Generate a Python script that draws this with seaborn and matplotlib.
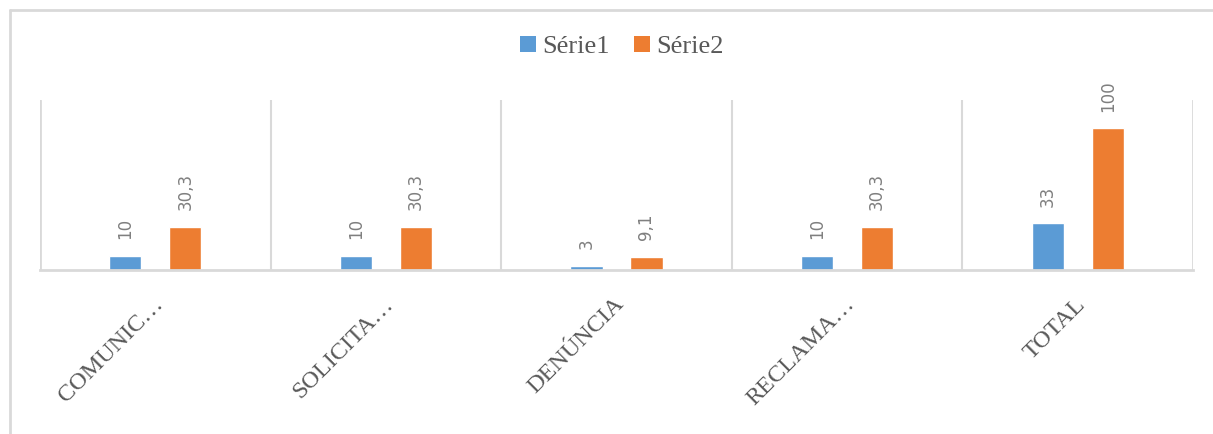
import matplotlib
matplotlib.use("Agg")
import matplotlib.pyplot as plt
import matplotlib.transforms as mtransforms
import seaborn as sns
import pandas as pd
from matplotlib.patches import Patch
from matplotlib.lines import Line2D

categories = ["COMUNIC…", "SOLICITA…", "DENÚNCIA", "RECLAMA…", "TOTAL"]
serie1 = [10, 10, 3, 10, 33]
serie2 = [30.3, 30.3, 9.1, 30.3, 100]
series_names = ["Série1", "Série2"]
colors = ["#5B9BD5", "#ED7D31"]

df = pd.DataFrame({
    "cat": categories * 2,
    "val": serie1 + serie2,
    "serie": [series_names[0]] * len(categories) + [series_names[1]] * len(categories),
})

sns.set_theme(style="white")
fig = plt.figure(figsize=(12.13, 4.34), dpi=100)
ax = fig.add_axes([40/1213, 1-270/434, (1193-40)/1213, 170/434])

sns.barplot(data=df, x="cat", y="val", hue="serie", palette=colors,
            width=0.52, gap=0.465, ax=ax, legend=False, saturation=1)

ax.set_ylim(0, 120)
ax.set_xlim(-0.5, len(categories) - 0.5)
ax.set_xlabel("")
ax.set_ylabel("")
ax.set_yticks([])

for s in ["top", "left", "right"]:
    ax.spines[s].set_visible(False)
ax.spines["bottom"].set_color("#D9D9D9")
ax.spines["bottom"].set_linewidth(2)

for i in range(len(categories) + 1):
    ax.axvline(i - 0.5, color="#D9D9D9", lw=1.5 if 0 < i < len(categories) else 2, zorder=0)

def fmt(v):
    s = f"{v:g}"
    return s.replace(".", ",")

for cont in ax.containers:
    ax.bar_label(cont, labels=[fmt(b.get_height()) for b in cont], rotation=90,
                 padding=12, color="#7F7F7F", fontsize=12, family="DejaVu Sans")

ax.set_xticks(range(len(categories)))
ax.set_xticklabels(categories, rotation=45, ha="right", rotation_mode="anchor",
                   family="Liberation Serif", fontsize=17.5, color="#595959")
ax.tick_params(axis="x", length=0, pad=17)
offset = mtransforms.ScaledTranslation(-3/100, 0, fig.dpi_scale_trans)
for lab in ax.get_xticklabels():
    lab.set_transform(lab.get_transform() + offset)

handles = [Patch(facecolor=c, edgecolor="none") for c in colors]
fig.legend(handles, series_names, loc="center", bbox_to_anchor=(622/1213, 1-47/434),
           ncol=2, frameon=False, handlelength=0.6, handleheight=0.6, handletextpad=0.25,
           columnspacing=0.9, prop={"family": "Liberation Serif", "size": 19},
           labelcolor="#595959")

# outer chart frame (top and left edges)
fig.add_artist(Line2D([10/1213, 1.0], [1-10/434, 1-10/434], color="#D9D9D9", lw=2,
                      transform=fig.transFigure))
fig.add_artist(Line2D([10/1213, 10/1213], [0, 1-10/434], color="#D9D9D9", lw=2,
                      transform=fig.transFigure))

fig.savefig("out.png", dpi=100, facecolor="white")
